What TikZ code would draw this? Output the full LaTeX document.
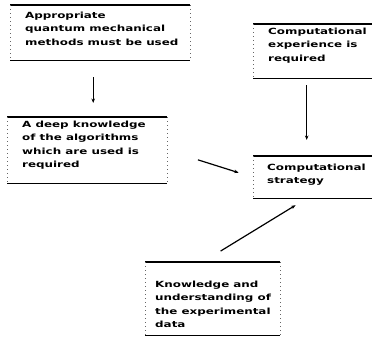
\documentclass[tikz,border=0pt]{standalone}
\usepackage{fontspec}
\setmainfont[FakeStretch=1.4]{DejaVu Sans}
\usetikzlibrary{arrows.meta}

\definecolor{FrameGrey}{HTML}{666666}
\tikzstyle{frame}=[inner sep=0pt, anchor=north west]
\tikzstyle{frame-rule}=[line width=1.4pt]
\tikzstyle{frame-side}=[FrameGrey, line width=0.5pt, dash pattern=on 1pt off 3pt]
\tikzstyle{box-text}=[inner sep=0pt, anchor=north west, align=left, font=\fontsize{8.5}{13.3}\selectfont\bfseries]
\tikzstyle{link}=[line width=1.2pt, -{Stealth[length=4.5pt,width=3.5pt]}]

\begin{document}
\begin{tikzpicture}[x=1pt, y=1pt]
      \useasboundingbox (0,0) rectangle (372,-346);
      \clip (0,0) rectangle (372,-346);

      % frames
      \node (frame-1) at ( 10,   -5) [frame, minimum width=180pt, minimum height=55pt] {};
      \node (frame-2) at (253,  -24) [frame, minimum width=127pt, minimum height=54pt] {};
      \node (frame-3) at (  7, -117) [frame, minimum width=160pt, minimum height=66pt] {};
      \node (frame-4) at (253, -156) [frame, minimum width=127pt, minimum height=42pt] {};
      \node (frame-5) at (145, -262) [frame, minimum width=135pt, minimum height=73pt] {};

      \foreach \f in {frame-1, frame-2, frame-3, frame-4, frame-5} {
        \draw [frame-rule] (\f.north west) -- (\f.north east);
        \draw [frame-rule] (\f.south west) -- (\f.south east);
        \draw [frame-side] (\f.north west) -- (\f.south west);
        \draw [frame-side] (\f.north east) -- (\f.south east);
      }

      % texts
      \node (text-1) at ( 25,  -12) [box-text] {Appropriate\\quantum mechanical\\methods must be used};
      \node (text-2) at (268,  -28) [box-text] {Computational\\experience is\\required};
      \node (text-3) at ( 22, -121) [box-text] {A deep knowledge\\of the algorithms\\which are used is\\required};
      \node (text-4) at (267, -164) [box-text] {Computational\\strategy};
      \node (text-5) at (155, -281) [box-text] {Knowledge and\\understanding of\\the experimental\\data};

      % links
      \draw [link, shorten <=17pt, shorten >=14pt] ([xshift=-7pt]frame-1.south) -- ([xshift=-7pt]frame-1.south |- frame-3.north);
      \draw [link, shorten <=7pt, shorten >=16pt] ([xshift=-10pt]frame-2.south) -- ([xshift=-10pt]frame-2.south |- frame-4.north);
      \draw [link, shorten <=32pt, shorten >=15pt] (frame-3.east) -- (frame-4.west);
      \draw [link, shorten <=21pt, shorten >=13pt] ([xshift=-10pt]frame-5.north) -- ([xshift=-10pt]frame-4.south);
    \end{tikzpicture}
\end{document}
